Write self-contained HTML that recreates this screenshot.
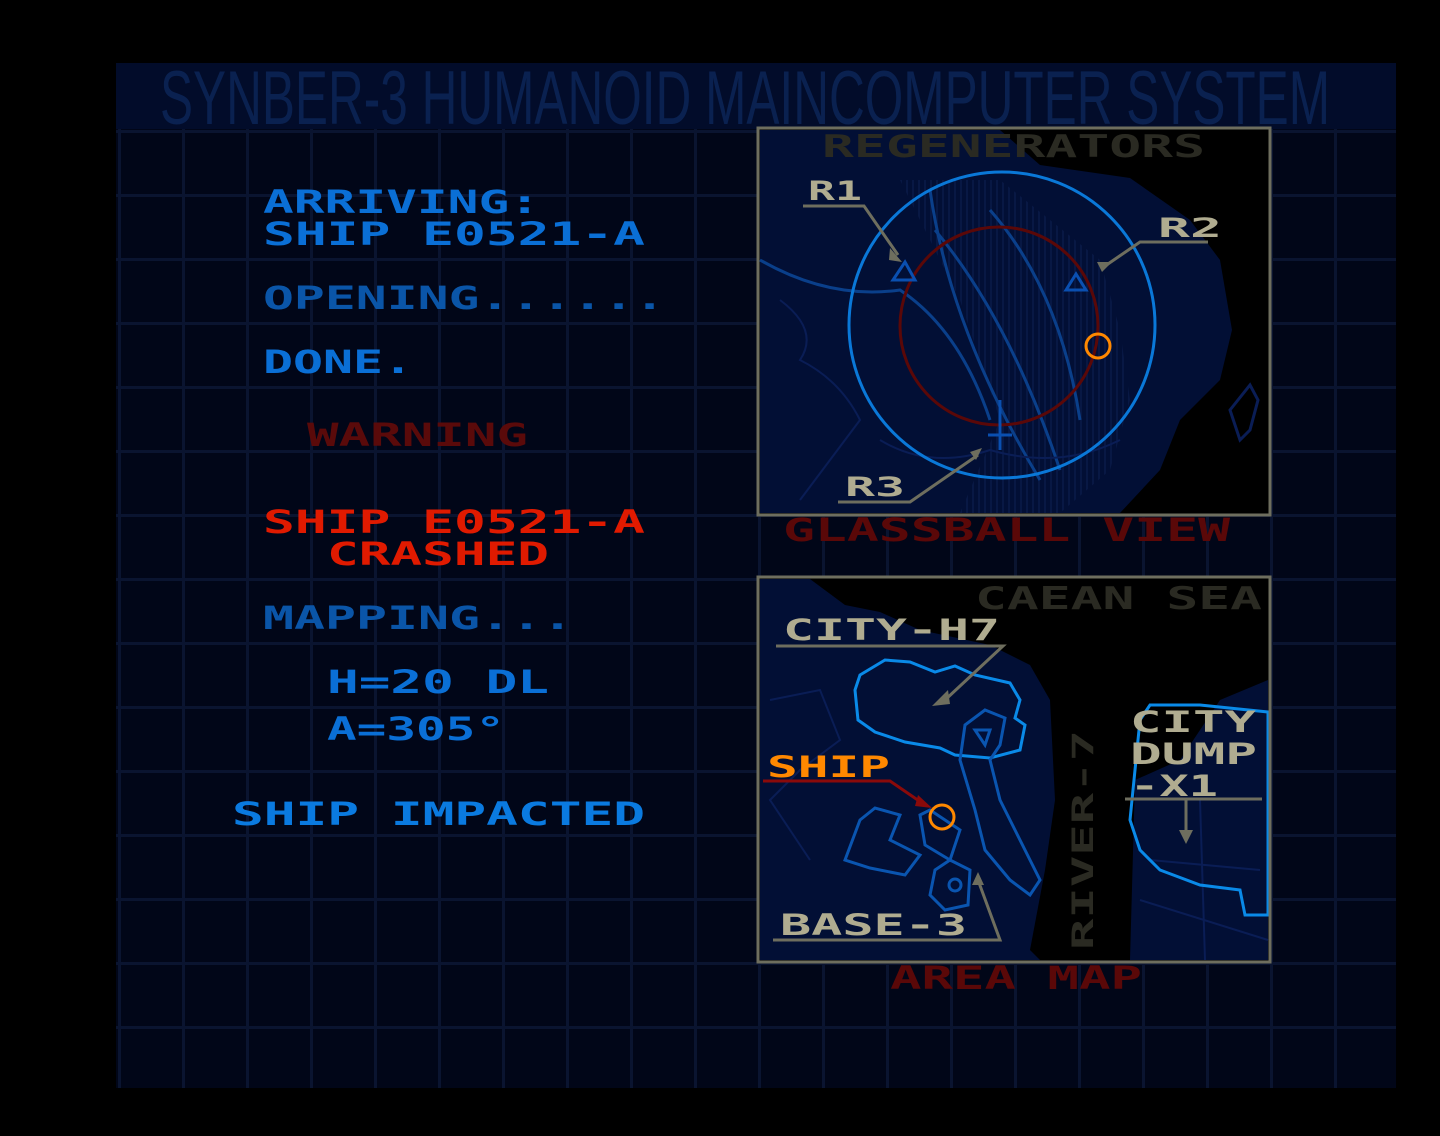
<!DOCTYPE html>
<html><head><meta charset="utf-8"><style>
html,body{margin:0;padding:0;background:#000;}
svg{display:block}
text{font-family:"DejaVu Sans Mono","Liberation Mono",monospace;font-weight:bold;}
</style></head><body>
<svg width="1440" height="1136" viewBox="0 0 1440 1136" xmlns="http://www.w3.org/2000/svg">
<defs>
<pattern id="grid" x="118" y="2" width="64" height="64" patternUnits="userSpaceOnUse">
<rect x="0" y="0" width="3" height="64" fill="#0a1430"/>
<rect x="0" y="0" width="64" height="3" fill="#0a1430"/>
</pattern>
<pattern id="hatch" width="6" height="6" patternUnits="userSpaceOnUse">
<rect width="2" height="6" fill="#0a1a48"/>
</pattern>
</defs>
<rect width="1440" height="1136" fill="#000"/>
<rect x="116" y="63" width="1280" height="1025" fill="#010618"/>
<rect x="116" y="63" width="1280" height="1025" fill="url(#grid)"/>
<rect x="116" y="63" width="1280" height="66" fill="#020c2a"/>
<text x="160" y="124" font-size="76" fill="#0a2150" textLength="1170" lengthAdjust="spacingAndGlyphs" style="font-family:'Liberation Sans Narrow','Liberation Sans',sans-serif;font-weight:normal">SYNBER-3 HUMANOID MAINCOMPUTER SYSTEM</text>

<!-- left texts -->
<g font-size="32">
<text x="263" y="213" fill="#0a6fd6" textLength="277" lengthAdjust="spacingAndGlyphs">ARRIVING:</text>
<text x="263" y="245" fill="#0a6fd6" textLength="382" lengthAdjust="spacingAndGlyphs">SHIP E0521-A</text>
<text x="263" y="309" fill="#0a55a8" textLength="402" lengthAdjust="spacingAndGlyphs">OPENING......</text>
<text x="263" y="373" fill="#0a6fd6" textLength="150" lengthAdjust="spacingAndGlyphs">DONE.</text>
<text x="307" y="446" fill="#5a0a0a" textLength="221" lengthAdjust="spacingAndGlyphs">WARNING</text>
<text x="263" y="533" fill="#e01a00" textLength="382" lengthAdjust="spacingAndGlyphs">SHIP E0521-A</text>
<text x="327" y="565" fill="#e01a00" textLength="222" lengthAdjust="spacingAndGlyphs">CRASHED</text>
<text x="263" y="629" fill="#0a55a8" textLength="310" lengthAdjust="spacingAndGlyphs">MAPPING...</text>
<text x="327" y="693" fill="#0a6fd6" textLength="222" lengthAdjust="spacingAndGlyphs">H=20 DL</text>
<text x="327" y="740" fill="#0a6fd6" textLength="178" lengthAdjust="spacingAndGlyphs">A=305°</text>
<text x="232" y="825" fill="#0a7ae0" textLength="413" lengthAdjust="spacingAndGlyphs">SHIP IMPACTED</text>
</g>

<!-- top box -->
<rect x="758" y="128" width="512" height="387" fill="#000"/>
<path d="M760,130 L1000,130 L1040,165 L1130,178 L1190,220 L1220,260 L1232,330 L1220,380 L1180,420 L1160,470 L1120,513 L760,513 Z" fill="#020f35"/>
<path d="M900,180 L1000,180 L1100,260 L1120,330 L1130,400 L1110,470 L1060,513 L960,513 L1000,420 L960,300 Z" fill="url(#hatch)" opacity="0.8"/>
<path d="M1230,410 L1250,385 L1258,400 L1250,430 L1240,440 Z" fill="none" stroke="#0a1d55" stroke-width="3"/>
<g fill="none" stroke="#0a3f8a" stroke-width="3">
<path d="M930,190 Q950,330 1040,480"/>
<path d="M935,230 Q1010,320 1060,470"/>
<path d="M990,210 Q1060,290 1080,420"/>
<path d="M760,260 Q830,300 900,290 Q960,330 990,420"/>
</g>
<g fill="none" stroke="#0a1d55" stroke-width="2">
<path d="M780,300 Q820,330 800,360 Q840,380 860,420 Q830,460 800,500"/>
<path d="M880,440 Q930,470 990,450 Q1060,470 1120,440"/>
</g>
<circle cx="1002" cy="325" r="153" fill="none" stroke="#0a78d8" stroke-width="3"/>
<circle cx="999" cy="326" r="99" fill="none" stroke="#5a0808" stroke-width="3"/>
<circle cx="1098" cy="346" r="12" fill="none" stroke="#ff8800" stroke-width="3"/>
<path d="M893,280 L905,262 L915,280 Z M1066,290 L1076,274 L1086,290 Z" fill="none" stroke="#0a4fb0" stroke-width="3"/>
<path d="M1000,400 L1000,450 M988,435 L1012,435" stroke="#0a4fb0" stroke-width="3"/>
<rect x="758" y="128" width="512" height="387" fill="none" stroke="#6e6e5e" stroke-width="3"/>
<text x="822" y="157" font-size="31" fill="#2a2a22" textLength="383" lengthAdjust="spacingAndGlyphs">REGENERATORS</text>
<g font-size="27" fill="#b0ac90">
<text x="808" y="200" textLength="54" lengthAdjust="spacingAndGlyphs">R1</text>
<text x="1158" y="237" textLength="64" lengthAdjust="spacingAndGlyphs">R2</text>
<text x="845" y="496" textLength="60" lengthAdjust="spacingAndGlyphs">R3</text>
</g>
<g stroke="#6e6e5e" stroke-width="3" fill="none">
<path d="M803,206 L864,206 L898,255"/>
<path d="M1208,242 L1140,242 L1105,266"/>
<path d="M838,502 L910,502 L978,455"/>
</g>
<g fill="#6e6e5e">
<path d="M890,248 L902,262 L889,260 Z"/><path d="M1097,262 L1112,262 L1102,272 Z"/><path d="M970,452 L982,448 L976,460 Z"/>
</g>
<text x="783" y="541" font-size="32" fill="#5a0808" textLength="447" lengthAdjust="spacingAndGlyphs">GLASSBALL VIEW</text>

<!-- bottom box -->
<rect x="758" y="577" width="512" height="385" fill="#000"/>
<path d="M760,579 L810,579 L845,605 L880,612 L920,630 L990,645 L1030,665 L1050,700 L1055,800 L1045,870 L1030,950 L1040,960 L760,960 Z" fill="#020f35"/>
<path d="M1130,960 L1135,780 L1180,760 L1220,700 L1268,680 L1268,960 Z" fill="#020f35"/>
<g fill="none" stroke="#0a1d55" stroke-width="2">
<path d="M770,700 L820,690 L840,740 L800,770 L770,800 L810,860"/>
<path d="M1150,860 L1260,870 M1200,800 L1205,960 M1140,900 L1268,940"/>
</g>
<g fill="none" stroke="#0a8ae8" stroke-width="3">
<path d="M860,675 L885,660 L910,662 L935,672 L955,666 L975,675 L1010,683 L1020,700 L1015,718 L1025,725 L1020,750 L990,758 L955,755 L940,748 L905,742 L875,732 L858,720 L855,690 Z"/>
<path d="M1140,720 L1150,705 L1200,705 L1268,712 L1268,915 L1245,915 L1240,890 L1200,885 L1160,870 L1140,850 L1130,820 Z"/>
</g>
<g fill="none" stroke="#0a55b0" stroke-width="3">
<path d="M960,760 L965,725 L985,710 L1005,718 L1000,745 L990,760 L1000,800 L1015,830 L1030,860 L1040,880 L1030,895 L1010,880 L985,850 L975,810 Z"/>
<path d="M975,730 L990,730 L985,745 Z"/>
<path d="M860,820 L875,808 L900,815 L890,840 L920,855 L905,875 L870,868 L845,860 Z"/>
<path d="M920,815 L930,810 L960,830 L950,860 L925,845 Z"/>
<path d="M935,870 L950,860 L970,870 L968,905 L945,910 L930,895 Z"/>
<circle cx="955" cy="885" r="6"/>
</g>
<circle cx="942" cy="817" r="12" fill="none" stroke="#ff8800" stroke-width="3"/>
<rect x="758" y="577" width="512" height="385" fill="none" stroke="#6e6e5e" stroke-width="3"/>
<text x="975" y="609" font-size="31" fill="#2a2a22" textLength="287" lengthAdjust="spacingAndGlyphs">CAEAN SEA</text>
<g font-size="29" fill="#b0ac90">
<text x="783" y="640" textLength="217" lengthAdjust="spacingAndGlyphs">CITY-H7</text>
<text x="1130" y="732" textLength="126" lengthAdjust="spacingAndGlyphs">CITY</text>
<text x="1130" y="764" textLength="127" lengthAdjust="spacingAndGlyphs">DUMP</text>
<text x="1130" y="796" textLength="88" lengthAdjust="spacingAndGlyphs">-X1</text>
<text x="780" y="935" textLength="187" lengthAdjust="spacingAndGlyphs">BASE-3</text>
</g>
<text x="767" y="777" font-size="29" fill="#ff8800" textLength="123" lengthAdjust="spacingAndGlyphs">SHIP</text>
<text transform="translate(1093,950) rotate(-90)" x="0" y="0" font-size="29" fill="#2a2a22" textLength="220" lengthAdjust="spacingAndGlyphs">RIVER-7</text>
<g stroke="#6e6e5e" stroke-width="3" fill="none">
<path d="M776,646 L1003,646 L945,700"/>
<path d="M1125,799 L1262,799 M1186,799 L1186,840"/>
<path d="M773,940 L1000,940 L978,880"/>
</g>
<g fill="#6e6e5e"><path d="M932,706 L948,690 L950,704 Z"/><path d="M1179,830 L1193,830 L1186,844 Z"/><path d="M972,885 L978,872 L984,885 Z"/></g>
<path d="M763,781 L890,781 L925,805" stroke="#8a0a0a" stroke-width="3" fill="none"/>
<path d="M918,795 L932,808 L915,806 Z" fill="#8a0a0a"/>
<text x="890" y="989" font-size="32" fill="#5a0808" textLength="252" lengthAdjust="spacingAndGlyphs">AREA MAP</text>
</svg>
</body></html>
